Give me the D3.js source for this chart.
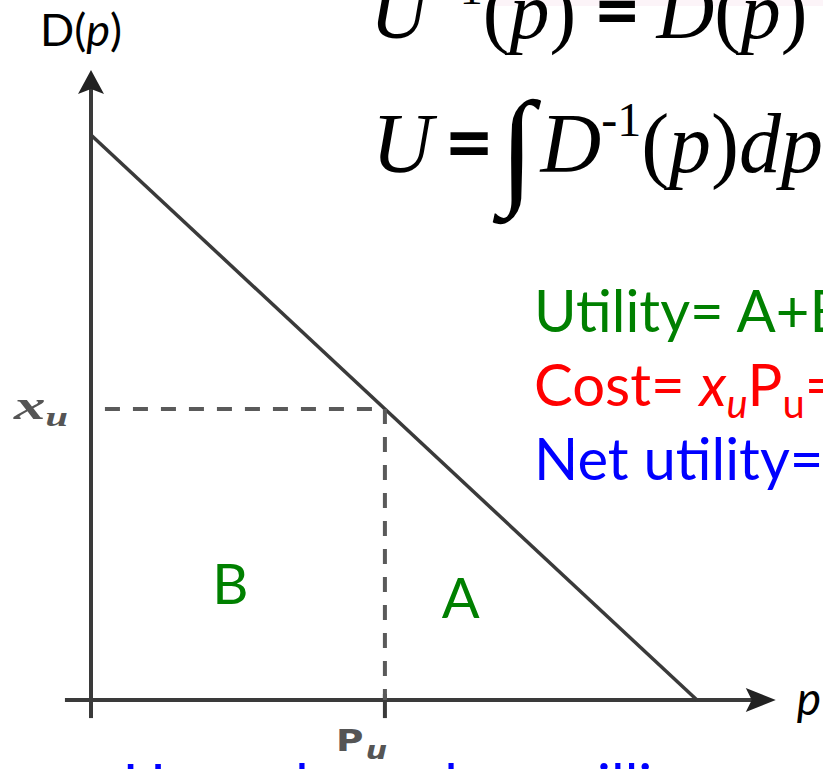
<!DOCTYPE html>
<html>
<head>
<meta charset="utf-8">
<script src="https://cdn.jsdelivr.net/npm/d3@7"></script>
<style>
  body { margin: 0; background: #fff; }
  svg { display: block; }
</style>
</head>
<body>
<svg class="demand"></svg>
<script>
// demand curve D(p) = 10 - p
const demandP = [0, 10]
const demandD = [10, 0]
const priceU = 4.85      // P_u on the price axis
const quantityU = 5.15   // x_u on the demand axis
const axisEnd = { p: 11.3, d: 11.15 }
const xTicks = [0, priceU]
const areaLabels = [
  { name: "B", p: 2.3, d: 1.7 },
  { name: "A", p: 6.1, d: 1.45 }
]
const noteLines = [
  { color: "#008000", parts: [["Utility= A+B", "n", false]] },
  { color: "#ff0000", parts: [["Cost= ", "n", false], ["x", "i", false], ["u", "i", true], ["P", "n", false], ["u", "n", true], ["= B", "n", false]] },
  { color: "#0000ff", parts: [["Net utility= A", "n", false]] }
]

const width = 823
const height = 769
const ink = "#3a3a3a"

const svg = d3.select("svg.demand").attr("width", width).attr("height", height)

// faint band at the top right, left over from the slide
svg.append("rect").attr("x", 488).attr("y", 0).attr("width", 335).attr("height", 6).attr("fill", "#fcf4f8")

const x = d3.scaleLinear().domain([0, 10]).range([91, 697])
const y = d3.scaleLinear().domain([0, 10]).range([700, 135])

const chart = svg.append("g")

// axes
chart.append("line")
  .attr("x1", x(-0.43)).attr("x2", x(axisEnd.p) - 10)
  .attr("y1", y(0)).attr("y2", y(0))
  .attr("stroke", ink).attr("stroke-width", 4)
chart.append("line")
  .attr("x1", x(0)).attr("x2", x(0))
  .attr("y1", y(-0.32)).attr("y2", y(axisEnd.d) + 10)
  .attr("stroke", ink).attr("stroke-width", 4)

// arrow heads
const xe = x(axisEnd.p), ye = y(0)
chart.append("path")
  .attr("d", `M${xe},${ye} L${xe - 30},${ye - 12} L${xe - 24},${ye} L${xe - 30},${ye + 12} Z`)
  .attr("fill", "#222")
const xa = x(0), ya = y(axisEnd.d)
chart.append("path")
  .attr("d", `M${xa},${ya} L${xa - 13},${ya + 24} L${xa},${ya + 19} L${xa + 13},${ya + 24} Z`)
  .attr("fill", "#222")

// ticks below the price axis
chart.selectAll(".tick")
  .data(xTicks)
  .enter()
  .append("line")
  .attr("x1", d => x(d)).attr("x2", d => x(d))
  .attr("y1", y(0) - 6).attr("y2", y(-0.32))
  .attr("stroke", ink).attr("stroke-width", 4)

// demand line
chart.append("path")
  .datum(d3.zip(demandP, demandD))
  .attr("d", d3.line().x(d => x(d[0])).y(d => y(d[1])))
  .attr("fill", "none").attr("stroke", ink).attr("stroke-width", 3.5)

// dashed guides to the chosen point
chart.append("path")
  .attr("d", d3.line()([[x(0.23), y(quantityU)], [x(priceU), y(quantityU)], [x(priceU), y(0)]]))
  .attr("fill", "none").attr("stroke", "#5a5a5a").attr("stroke-width", 4)
  .attr("stroke-dasharray", "15,13")

// axis labels
const sans = "Lato, 'Open Sans', sans-serif"
const serif = "'Liberation Serif', 'DejaVu Serif', serif"

const dl = svg.append("text").attr("x", 40).attr("y", 46)
  .style("font-family", sans).style("font-size", "45px").attr("fill", "#000")
dl.append("tspan").text("D(")
dl.append("tspan").style("font-style", "italic").text("p")
dl.append("tspan").text(")")

svg.append("text").attr("x", x(axisEnd.p) + 21).attr("y", y(0) + 15)
  .style("font-family", sans).style("font-size", "46px").style("font-style", "italic")
  .text("p")

// math-style labels are wide, so stretch them sideways
const xu = svg.append("text")
  .attr("transform", `translate(14, ${y(quantityU) + 10}) scale(1.5, 1)`)
  .style("font-family", serif).style("font-style", "italic").style("font-size", "42px")
  .attr("fill", "#555").style("font-weight", "bold")
xu.append("tspan").text("x")
xu.append("tspan").attr("dy", 7).style("font-size", "27px").text("u")

const pu = svg.append("text")
  .attr("transform", `translate(${x(priceU) - 49}, 751) scale(1.25, 1)`)
  .style("font-family", "'DejaVu Sans', sans-serif").style("font-size", "30px")
  .attr("fill", "#555").style("font-weight", "bold")
pu.append("tspan").text("P")
pu.append("tspan").attr("dx", 2).attr("dy", 8).style("font-size", "24px").style("font-style", "italic").text("u")

// area labels
svg.selectAll(".area")
  .data(areaLabels)
  .enter()
  .append("text")
  .attr("x", d => x(d.p)).attr("y", d => y(d.d))
  .attr("text-anchor", "middle")
  .style("font-family", sans).style("font-size", "56px").attr("fill", "#008000")
  .text(d => d.name)

// formulas
const f1 = svg.append("text").attr("x", 370).attr("y", 38)
  .style("font-family", serif).style("font-size", "80px")
f1.append("tspan").style("font-style", "italic").text("U")
f1.append("tspan").attr("dx", 6).attr("dy", -34).style("font-size", "46px").text("\u22121")
f1.append("tspan").attr("dx", 0).attr("dy", 34).text("(")
f1.append("tspan").style("font-style", "italic").text("p")
f1.append("tspan").text(")")
f1.append("tspan").attr("dx", 18).style("font-family", sans).style("font-weight", "bold").text("=")
f1.append("tspan").attr("dx", 16).style("font-style", "italic").text("D")
f1.append("tspan").text("(")
f1.append("tspan").style("font-style", "italic").text("p")
f1.append("tspan").text(")")

const f2 = svg.append("text").attr("x", 372).attr("y", 172)
  .style("font-family", serif).style("font-size", "84px")
f2.append("tspan").style("font-style", "italic").text("U")
f2.append("tspan").attr("dx", 12).style("font-family", sans).style("font-weight", "bold").text("=")
f2.append("tspan").attr("dx", 6).style("font-size", "128px").attr("dy", 18).text("\u222B")
f2.append("tspan").attr("dx", 6).attr("dy", -18).style("font-style", "italic").text("D")
f2.append("tspan").attr("dy", -36).style("font-size", "48px").text("-1")
f2.append("tspan").attr("dy", 36).text("(")
f2.append("tspan").style("font-style", "italic").text("p")
f2.append("tspan").text(")")
f2.append("tspan").style("font-style", "italic").text("dp")

// notes on the right
noteLines.forEach((line, i) => {
  const t = svg.append("text").attr("x", 534).attr("y", 332 + i * 74)
    .style("font-family", sans).style("font-size", "58px").attr("fill", line.color)
  let sub = false
  line.parts.forEach(([s, style, isSub]) => {
    const ts = t.append("tspan").text(s)
    if (style === "i") ts.style("font-style", "italic")
    if (isSub && !sub) { ts.attr("dy", 12).style("font-size", "40px"); sub = true }
    else if (isSub) ts.style("font-size", "40px")
    else if (sub) { ts.attr("dy", -12); sub = false }
  })
})

// next line of the slide, mostly cut off at the bottom
svg.append("text").attr("x", 123).attr("y", 806)
  .style("font-family", sans).style("font-size", "58px").attr("fill", "#0000ff")
  .text("Upper bound on willingness")
</script>
</body>
</html>
